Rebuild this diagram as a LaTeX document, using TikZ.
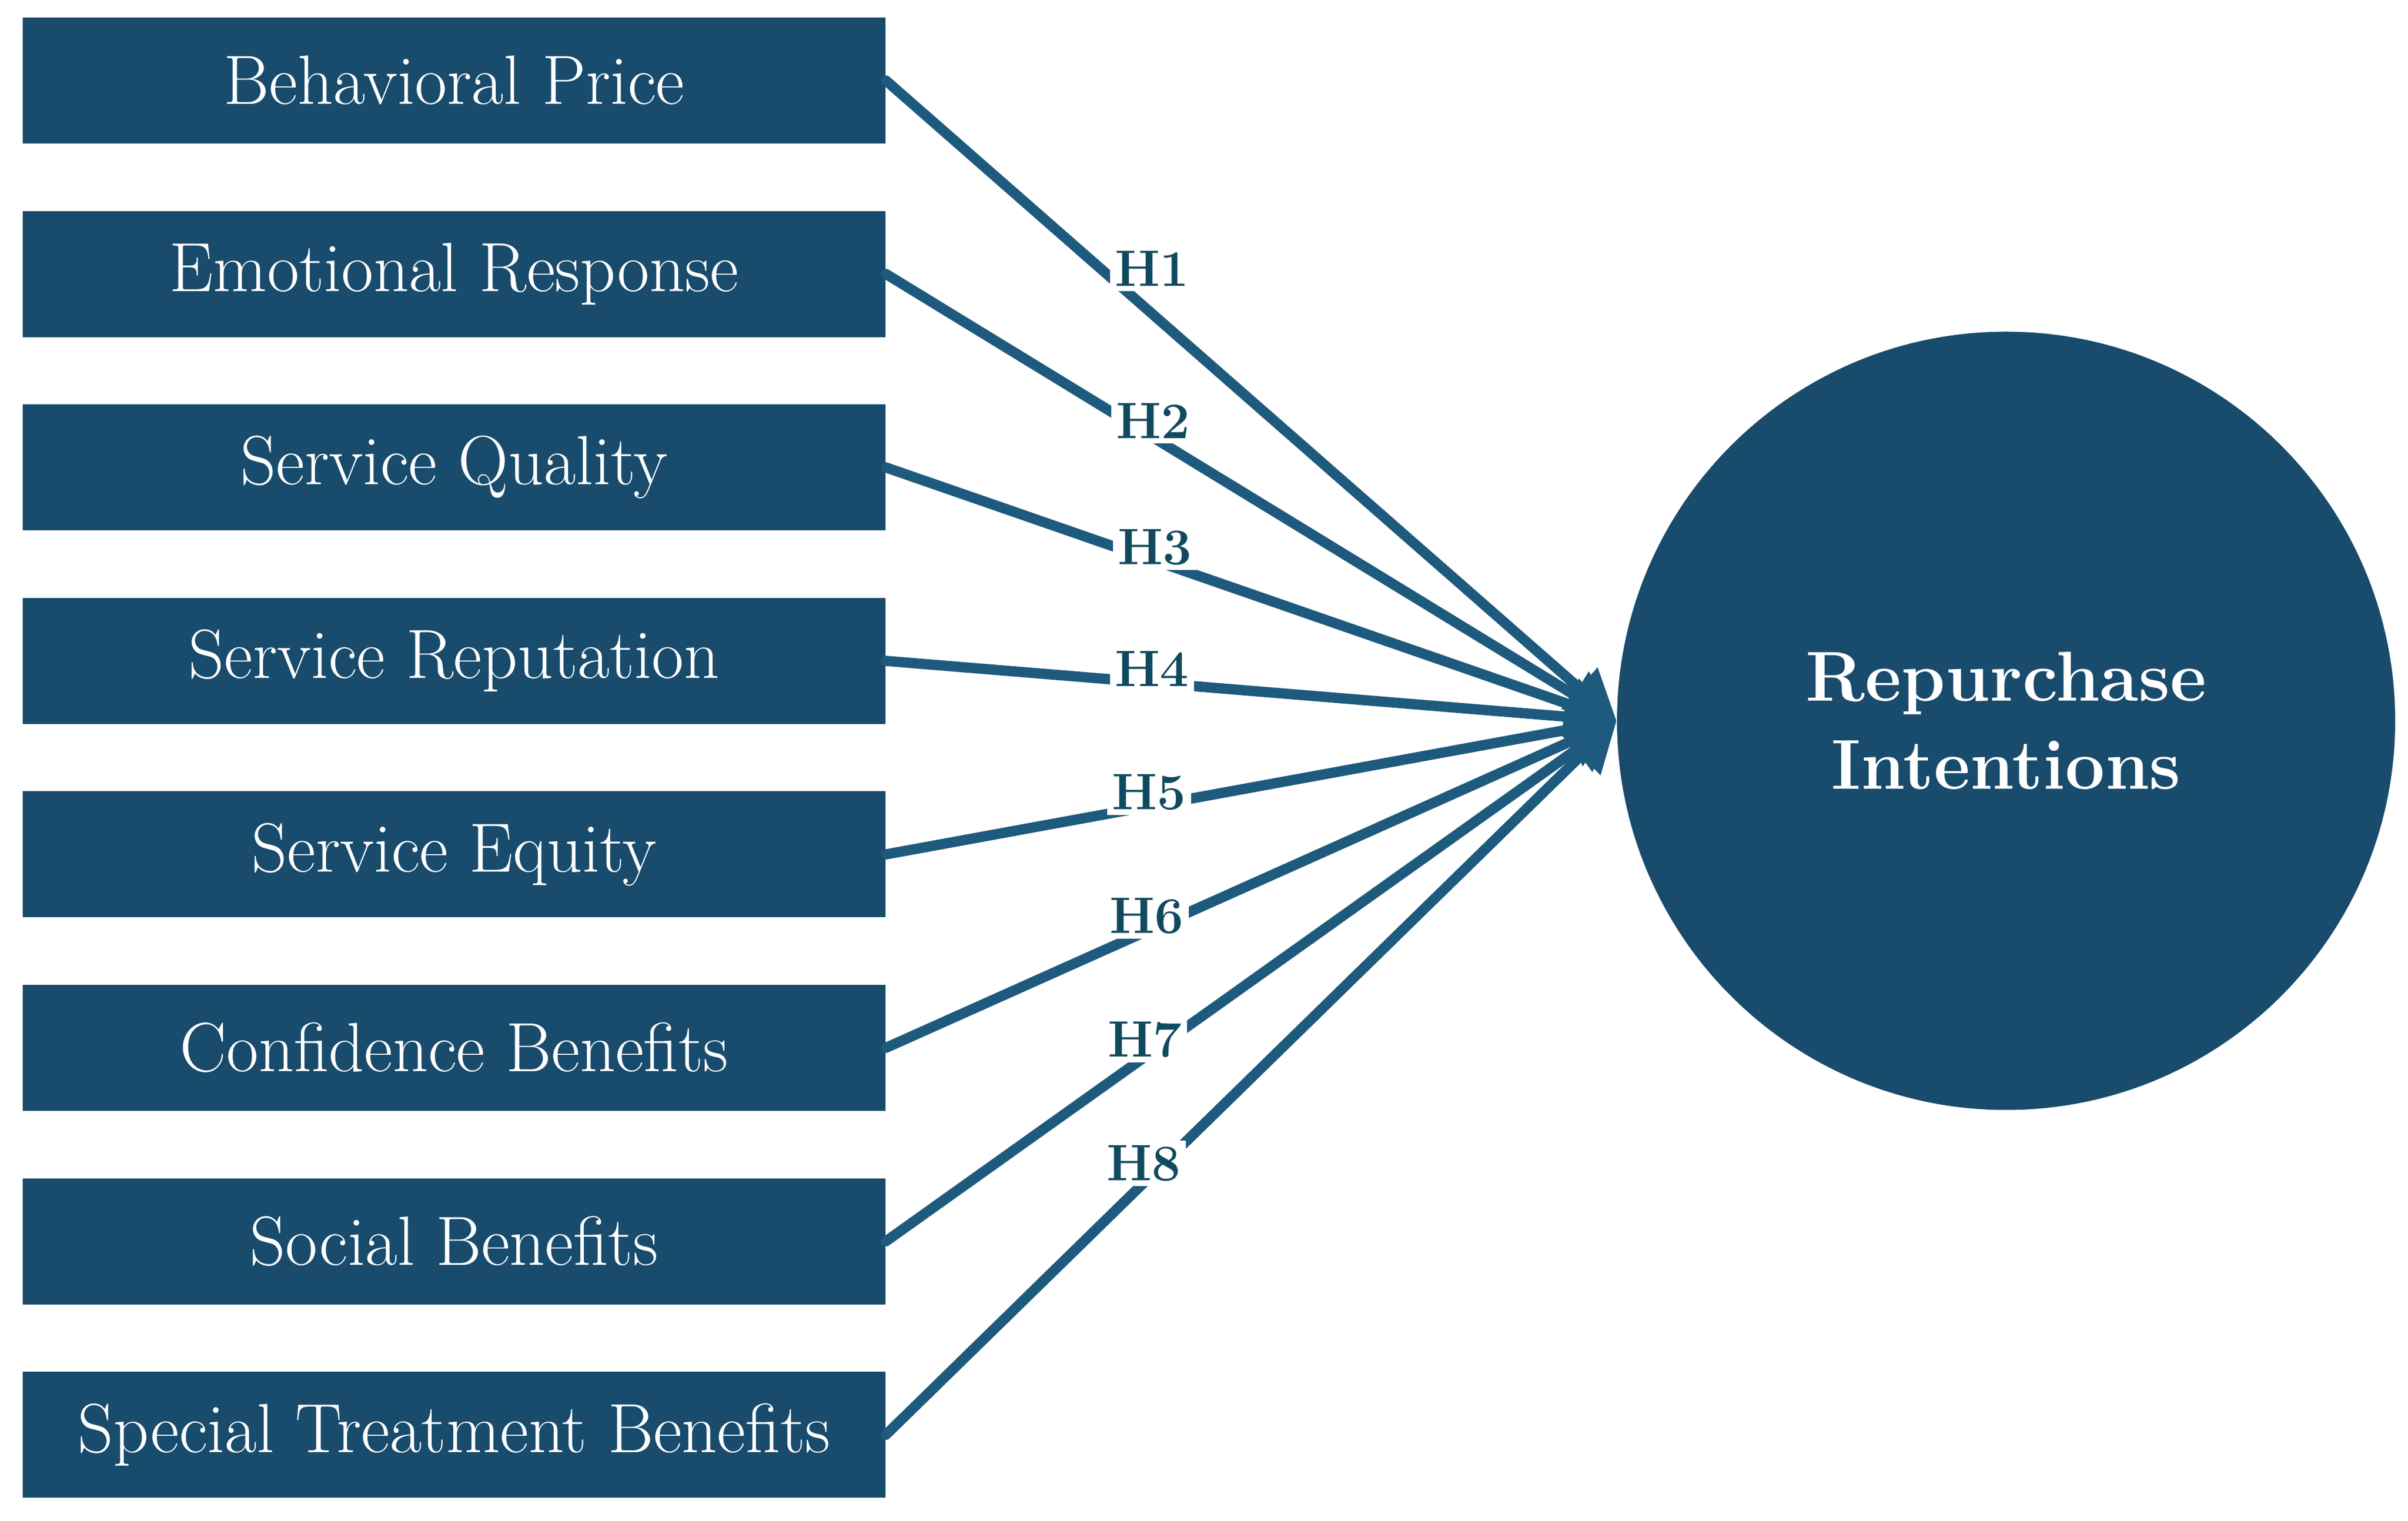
\documentclass[tikz,border=0pt]{standalone}
\usepackage{tikz}
\usetikzlibrary{arrows.meta}

\definecolor{boxblue}{HTML}{184B6C}
\definecolor{lineblue}{HTML}{1E5A7D}
\definecolor{labteal}{HTML}{104A5E}

\begin{document}
\begin{tikzpicture}
    \tikzset{factor/.style={rectangle, fill=boxblue, text=white, minimum width=14.79cm,
        minimum height=2.16cm, inner sep=0pt, font=\fontsize{34}{40}\selectfont}}
    \tikzset{outcome/.style={circle, fill=boxblue, text=white, minimum size=13.34cm,
        inner sep=0pt, align=center, font=\fontsize{34.5}{43}\selectfont\bfseries}}
    \tikzset{hyp/.style={fill=white, text=labteal, inner sep=2.5pt,
        font=\fontsize{25}{29}\selectfont\bfseries}}
    \tikzset{path/.style={draw=lineblue, line width=5pt, line cap=round,
        -{Triangle[length=0.85cm,width=0.9cm]}}}
    \useasboundingbox (0,0) rectangle (41.28,26.06);
    % the eight antecedents
    \node[factor] (bp) at (7.785,24.68) {Behavioral Price};
    \node[factor] (er) at (7.785,21.364) {Emotional Response};
    \node[factor] (sq) at (7.785,18.048) {Service Quality};
    \node[factor] (sr) at (7.785,14.732) {Service Reputation};
    \node[factor] (se) at (7.785,11.416) {Service Equity};
    \node[factor] (cb) at (7.785,8.10) {Confidence Benefits};
    \node[factor] (sb) at (7.785,4.784) {Social Benefits};
    \node[factor] (st) at (7.785,1.468) {Special Treatment Benefits};
    % outcome
    \node[outcome] (ri) at (34.39,13.705) {Repurchase\\Intentions};
    % hypothesised paths
    \foreach \f in {bp,er,sq,sr,se,cb,sb,st}
      \draw[path] (\f.east) -- (ri.west);
    \node[hyp] (h1) at (19.75,21.46) {H1};
    \node[hyp] (h2) at (19.77,18.85) {H2};
    \node[hyp] (h3) at (19.80,16.68) {H3};
    \node[hyp] (h4) at (19.75,14.60) {H4};
    \node[hyp] (h5) at (19.70,12.48) {H5};
    \node[hyp] (h6) at (19.66,10.36) {H6};
    \node[hyp] (h7) at (19.63,8.24) {H7};
    \node[hyp] (h8) at (19.61,6.12) {H8};
\end{tikzpicture}
\end{document}
